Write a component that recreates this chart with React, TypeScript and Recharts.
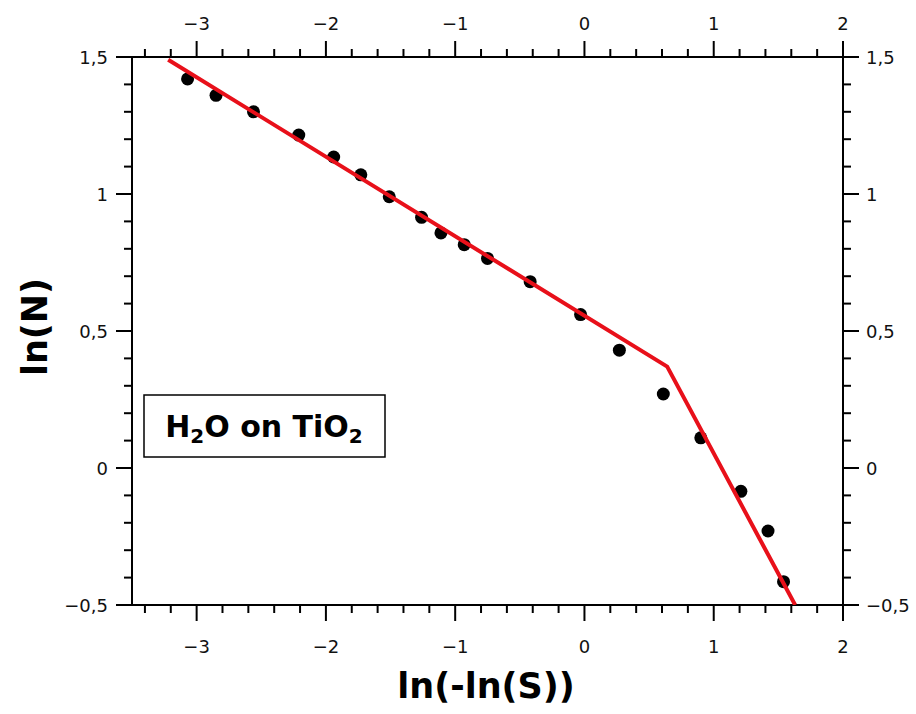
import { ScatterChart, Scatter, XAxis, YAxis, Customized } from "recharts";

// measured points: x = ln(-ln(S)), y = ln(N)
const lnlnS = [-3.07, -2.85, -2.56, -2.21, -1.94, -1.73, -1.51, -1.26, -1.11, -0.93, -0.75, -0.42, -0.03, 0.27, 0.61, 0.9, 1.21, 1.42, 1.54];
const lnN = [1.42, 1.36, 1.3, 1.215, 1.135, 1.07, 0.99, 0.915, 0.858, 0.815, 0.765, 0.68, 0.56, 0.43, 0.27, 0.11, -0.085, -0.23, -0.415];

// two-segment fit
const fitX = [-3.22, 0.64, 1.63];
const fitY = [1.49, 0.37, -0.5];

const xTicks = [-3.4, -3.2, -3, -2.8, -2.6, -2.4, -2.2, -2, -1.8, -1.6, -1.4, -1.2, -1, -0.8, -0.6, -0.4, -0.2, 0, 0.2, 0.4, 0.6, 0.8, 1, 1.2, 1.4, 1.6, 1.8, 2];
const yTicks = [-0.5, -0.4, -0.3, -0.2, -0.1, 0, 0.1, 0.2, 0.3, 0.4, 0.5, 0.6, 0.7, 0.8, 0.9, 1, 1.1, 1.2, 1.3, 1.4, 1.5];

const points = lnlnS.map((x, i) => ({ x, y: lnN[i] }));
const fit = fitX.map((x, i) => ({ x, y: fitY[i] }));

const FONT = "'DejaVu Sans', Verdana, sans-serif";
const isMajorX = (v: number) => Math.abs(v - Math.round(v)) < 1e-6;
const isMajorY = (v: number) => Math.abs(v * 2 - Math.round(v * 2)) < 1e-6;
const fmt = (v: number) => String(Math.round(v * 10) / 10).replace(".", ",").replace("-", "\u2212");

const lbl = { fontFamily: FONT, fontSize: 18, fill: "#111" };

const BottomTick = (p: any) => {
  const v = p.payload.value;
  const major = isMajorX(v);
  return (
    <g>
      <line x1={p.x} x2={p.x} y1={p.y} y2={p.y + (major ? 16 : 8)} stroke="#000" strokeWidth={2} />
      {major && <text x={p.x} y={p.y + 48} textAnchor="middle" {...lbl}>{fmt(v)}</text>}
    </g>
  );
};

const TopTick = (p: any) => {
  const v = p.payload.value;
  const major = isMajorX(v);
  return (
    <g>
      <line x1={p.x} x2={p.x} y1={p.y} y2={p.y - (major ? 16 : 8)} stroke="#000" strokeWidth={2} />
      {major && <text x={p.x} y={p.y - 27} textAnchor="middle" {...lbl}>{fmt(v)}</text>}
    </g>
  );
};

const LeftTick = (p: any) => {
  const v = p.payload.value;
  const major = isMajorY(v);
  return (
    <g>
      <line x1={p.x} x2={p.x - (major ? 16 : 8)} y1={p.y} y2={p.y} stroke="#000" strokeWidth={2} />
      {major && <text x={p.x - 24} y={p.y + 6.5} textAnchor="end" {...lbl}>{fmt(v)}</text>}
    </g>
  );
};

const RightTick = (p: any) => {
  const v = p.payload.value;
  const major = isMajorY(v);
  return (
    <g>
      <line x1={p.x} x2={p.x + (major ? 16 : 8)} y1={p.y} y2={p.y} stroke="#000" strokeWidth={2} />
      {major && <text x={p.x + 23} y={p.y + 6.5} textAnchor="start" {...lbl}>{fmt(v)}</text>}
    </g>
  );
};

const Dot = (p: any) => <circle cx={p.cx} cy={p.cy} r={6.5} fill="#000" />;
const NoDot = () => <g />;

const Extras = () => (
  <g fontFamily={FONT} fontWeight="bold" fill="#000">
    <text x={486} y={698} textAnchor="middle" fontSize={35}>ln(-ln(S))</text>
    <text x={47} y={327} textAnchor="middle" fontSize={35} transform="rotate(-90 47 327)">ln(N)</text>
    <rect x={144} y={395} width={241} height={62} fill="#fff" stroke="#000" strokeWidth={1.5} />
    <text x={264} y={437} textAnchor="middle" fontSize={30}>
      H<tspan fontSize={20} dy={6}>2</tspan><tspan dy={-6}>O on TiO</tspan><tspan fontSize={20} dy={6}>2</tspan>
    </text>
  </g>
);

const axisProps = {
  type: "number" as const,
  allowDataOverflow: true,
  interval: 0 as const,
  tickSize: 0,
  tickMargin: 0,
  axisLine: { stroke: "#000", strokeWidth: 2 },
  tickLine: false,
};

export default function App() {
  return (
    <div>
      <style>{"body{margin:0;overflow:hidden}"}</style>
      <ScatterChart width={916} height={710} margin={{ top: 17, right: 13, bottom: 65, left: 62 }} style={{ overflow: "visible" }}>
        <XAxis xAxisId="b" dataKey="x" orientation="bottom" domain={[-3.5, 2]} ticks={xTicks} height={40} tick={BottomTick} {...axisProps} />
        <XAxis xAxisId="t" dataKey="x" orientation="top" domain={[-3.5, 2]} ticks={xTicks} height={40} tick={TopTick} {...axisProps} />
        <YAxis yAxisId="l" dataKey="y" orientation="left" domain={[-0.5, 1.5]} ticks={yTicks} width={70} tick={LeftTick} {...axisProps} />
        <YAxis yAxisId="r" dataKey="y" orientation="right" domain={[-0.5, 1.5]} ticks={yTicks} width={60} tick={RightTick} {...axisProps} />
        <Scatter xAxisId="b" yAxisId="l" data={points} shape={Dot} isAnimationActive={false} />
        <Scatter xAxisId="b" yAxisId="l" data={fit} shape={NoDot} line={{ stroke: "#e8101a", strokeWidth: 4 }} lineType="joint" isAnimationActive={false} />
        <Scatter xAxisId="t" yAxisId="r" data={fit} shape={NoDot} isAnimationActive={false} />
        <Customized component={Extras} />
      </ScatterChart>
    </div>
  );
}
